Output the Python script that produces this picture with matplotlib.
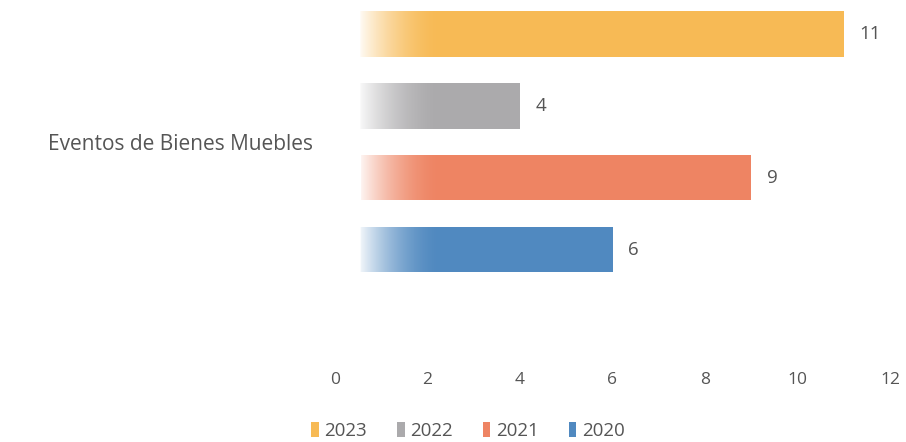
import matplotlib.pyplot as plt
import numpy as np

plt.rcParams["font.family"] = ["Open Sans", "DejaVu Sans"]

category = "Eventos de Bienes Muebles"
years = ["2023", "2022", "2021", "2020"]
values = [11, 4, 9, 6]
colors = ["#F7BA55", "#ABAAAC", "#EE8463", "#5089C0"]
x_ticks = [0, 2, 4, 6, 8, 10, 12]

TEXT = "#555555"


def add_fade(ax, patch, fade_start=0.55, fade_end=2.3):
    """Weisser Verlauf am linken Ende des Balkens."""
    x0, y0 = patch.get_x(), patch.get_y()
    w, h = patch.get_width(), patch.get_height()
    xs = np.linspace(x0, x0 + w, 400)
    t = np.clip((xs - fade_start) / (fade_end - fade_start), 0, 1)
    alpha = np.where(xs < fade_start, 1.0, 0.92 * (1 - t) ** 1.8)
    img = np.ones((2, len(xs), 4))
    img[..., 3] = alpha
    im = ax.imshow(img, extent=(x0, x0 + w, y0, y0 + h), aspect="auto",
                   interpolation="bilinear", zorder=3)
    im.set_clip_path(patch)


fig = plt.figure(figsize=(9.06, 4.42), dpi=100)
ax = fig.add_axes([335 / 906, 1 - 365 / 442, 555 / 906, 365 / 442])

offsets = [1.5, 0.5, -0.5, -1.5]
handles = []
for year, val, col, off in zip(years, values, colors, offsets):
    bars = ax.barh(off, val, height=0.63, color=col, label=year, zorder=2)
    add_fade(ax, bars.patches[0])
    ax.text(val + 0.33, off, str(val), va="center", ha="left",
            fontsize=13.5, color=TEXT)
    handles.append(bars)

ax.set_xlim(0, 12)
ax.set_ylim(-3.1, 1.97)
ax.set_xticks(x_ticks)
ax.set_xticklabels([str(t) for t in x_ticks], fontsize=12.5, color=TEXT)
ax.set_yticks([0])
ax.set_yticklabels([category], fontsize=15, color=TEXT)
ax.tick_params(axis="both", length=0)
ax.tick_params(axis="x", pad=5)
ax.tick_params(axis="y", pad=16)
for s in ax.spines.values():
    s.set_visible(False)

leg = fig.legend(handles=handles, labels=years, loc="center",
                 bbox_to_anchor=(468 / 906, 1 - 431 / 442), ncol=4,
                 frameon=False, fontsize=13.5, handlelength=0.4,
                 handleheight=0.8, handletextpad=0.3, columnspacing=1.6)
for t in leg.get_texts():
    t.set_color(TEXT)

fig.savefig("out.png", dpi=100)
